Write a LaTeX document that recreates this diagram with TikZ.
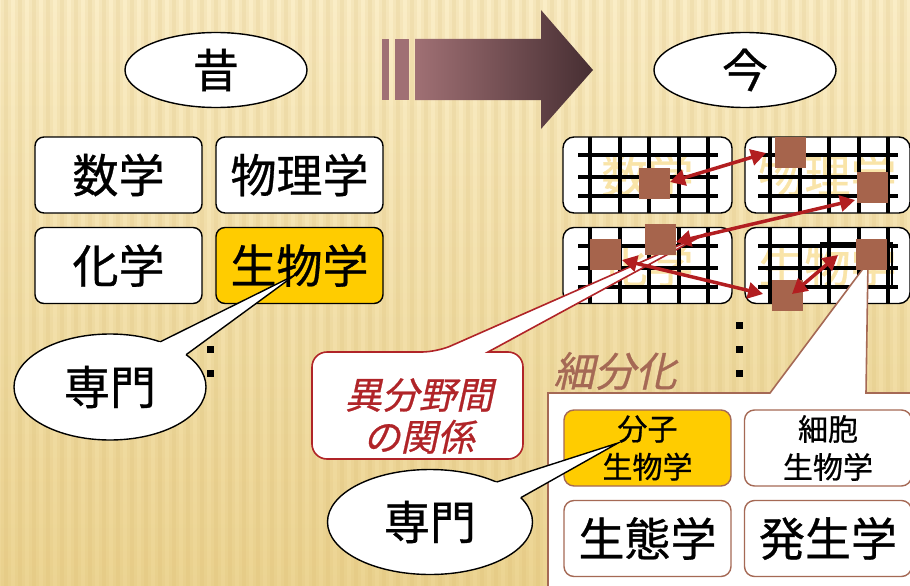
\documentclass[tikz,border=0pt]{standalone}
\usepackage{fontspec}
\newfontfamily\jp[FakeBold=0.7]{Noto Sans CJK JP}
\newfontfamily\jpit[FakeSlant=0.22,FakeBold=0.7]{Noto Sans CJK JP}
\usetikzlibrary{arrows.meta,calc,shapes.geometric}
\definecolor{bgtop}{RGB}{250,237,198}
\definecolor{bgbot}{RGB}{236,212,146}
\definecolor{stripe}{RGB}{210,176,96}
\definecolor{gold}{RGB}{255,204,0}
\definecolor{sqbrown}{RGB}{166,100,76}
\definecolor{arrred}{RGB}{178,30,32}
\definecolor{calred}{RGB}{176,36,40}
\definecolor{calbrown}{RGB}{165,105,85}
\definecolor{ghost}{RGB}{249,228,168}
\definecolor{arrL}{RGB}{160,112,116}
\definecolor{arrR}{RGB}{70,46,50}
\begin{document}
\begin{tikzpicture}[x=1pt,y=-1pt,
 field/.style={draw=black, line width=1.4pt, rounded corners=9pt, fill=white, minimum width=167pt, minimum height=76pt, inner sep=0pt, outer sep=0pt, font=\jp\fontsize{46}{50}\selectfont},
 hot/.style={field, fill=gold},
 gridbox/.style={draw=black, line width=1.4pt, rounded corners=11pt, fill=white, minimum width=169pt, minimum height=76pt, inner sep=0pt, outer sep=0pt, text=ghost, font=\jp\fontsize{46}{50}\selectfont},
 gline/.style={line width=4pt, black},
 bubble/.style={ellipse, draw=black, line width=1.4pt, fill=white, inner sep=0pt, outer sep=0pt, font=\jp\fontsize{46}{50}\selectfont},
 sub/.style={draw=calbrown, line width=1.4pt, rounded corners=10pt, fill=white, minimum width=167pt, minimum height=76pt, inner sep=0pt, outer sep=0pt, align=center},
 sq/.style={fill=sqbrown, minimum size=31pt, inner sep=0pt, outer sep=0pt},
 dbl/.style={arrred, line width=3.5pt, {Triangle[length=15pt,width=16pt]}-{Triangle[length=15pt,width=16pt]}},
 edot/.style={fill=black, minimum size=7pt, inner sep=0pt, outer sep=0pt},
]
\useasboundingbox (0,0) rectangle (910,586);
% background
\shade[top color=bgtop, bottom color=bgbot] (0,0) rectangle (910,586);
\foreach \i in {0,...,65} {
  \fill[stripe, opacity=0.10] (\i*14+1,0) rectangle (\i*14+11,586);
  \fill[stripe, opacity=0.12] (\i*14+4,0) rectangle (\i*14+8,586);
}
% big arrow
\shade[left color=arrL, right color=arrR] (415,39) -- (541,39) -- (541,10) -- (593,70) -- (541,129) -- (541,100) -- (415,100) -- cycle;
\fill[arrL] (382,39) rectangle (389,100);
\fill[arrL] (395,39) rectangle (409,100);
% era bubbles
\node[bubble, minimum width=182pt, minimum height=75pt] (past) at (216,70) {昔};
\node[bubble, minimum width=182pt, minimum height=75pt] (now) at (745,70) {今};
% old fields
\node[field] (math) at (118.5,175) {数学};
\node[field] (phys) at (299.5,175) {物理学};
\node[field] (chem) at (118.5,265.5) {化学};
\node[hot] (bio) at (299.5,265.5) {生物学};
% new gridded fields
\node[gridbox] (g1) at (647.5,175) {数学};
\node[gridbox, minimum width=165pt] (g2) at (827.5,175) {物理学};
\node[gridbox] (g3) at (647.5,265.5) {化学};
\node[gridbox, minimum width=165pt] (g4) at (827.5,265.5) {生物学};
\foreach \dx/\dy in {0/0,180/0,0/90.5,180/90.5} {
  \foreach \x in {590,619.5,649,678.5,708} \draw[gline] (\x+\dx,137+\dy) -- (\x+\dx,213+\dy);
  \foreach \y in {155,177,196} \draw[gline] (578+\dx,\y+\dy) -- (718+\dx,\y+\dy);
}
\draw[line width=2pt] (821,243) rectangle (892,287);
% vertical ellipses
\foreach \y [count=\k] in {325,349,373} {
  \node[edot] (ld\k) at (210,\y) {};
  \node[edot] (rd\k) at (739,\y) {};
}
% subdivision label
\node[text=calbrown, font=\jpit\fontsize{41}{44}\selectfont, inner sep=0pt] (saibun) at (615,371) {細分化};
% brown callout
\coordinate (tip3) at (868,262);
\draw[calbrown, line width=1.6pt, fill=white] (548,393) -- (770,393) -- (tip3) -- (866,393) -- (920,393) -- (920,600) -- (548,600) -- cycle;
\node[sub, fill=gold, font=\jp\fontsize{30}{38}\selectfont] (mol) at (647.5,448) {分子\\生物学};
\node[sub, font=\jp\fontsize{30}{38}\selectfont] (cell) at (828,448) {細胞\\生物学};
\node[sub, font=\jp\fontsize{46}{50}\selectfont] (eco) at (647.5,538.5) {生態学};
\node[sub, font=\jp\fontsize{46}{50}\selectfont] (dev) at (828,538.5) {発生学};
% red callout
\coordinate (tipR) at (707,233);
\draw[calred, line width=1.6pt, fill=white] (312,400) [rounded corners=15pt] -- (312,352) -- (437,352) [sharp corners] -- (tipR) -- (488,352) [rounded corners=15pt] -- (523,352) -- (523,459) -- (312,459) -- cycle;
\node[text=calred, font=\jpit\fontsize{37}{42}\selectfont, align=center, inner sep=0pt] (rel) at (419,416) {異分野間\\の関係};
% left speciality bubble
\node[bubble, minimum width=192pt, minimum height=106pt] (sen1) at (110,387) {専門};
\coordinate (tip1) at (295,275);
\fill[white] (tip1) -- ($(tip1)!1.1!(sen1.42)$) -- ($(tip1)!1.1!(sen1.23)$) -- cycle;
\draw[line width=1.4pt] (sen1.42) -- (tip1) -- (sen1.23);
% bottom speciality bubble
\node[bubble, minimum width=205pt, minimum height=105pt] (sen2) at (430,522) {専門};
\coordinate (tip2) at (618,443);
\fill[white] (tip2) -- ($(tip2)!1.1!(sen2.31)$) -- ($(tip2)!1.1!(sen2.15)$) -- cycle;
\draw[line width=1.4pt] (sen2.31) -- (tip2) -- (sen2.15);
% squares
\node[sq] (s1) at (654.5,183) {};
\node[sq] (s2) at (790.5,152) {};
\node[sq] (s3) at (872.5,187.5) {};
\node[sq] (s4) at (605.5,254) {};
\node[sq] (s5) at (660.5,239) {};
\node[sq] (s6) at (871,254.5) {};
\node[sq] (s7) at (787.5,295.5) {};
% links
\coordinate (a1s) at (670,182); \coordinate (a1e) at (766,153);
\coordinate (a2s) at (855,200); \coordinate (a2e) at (676,242);
\coordinate (a3s) at (622,260); \coordinate (a3e) at (763,294);
\coordinate (a4s) at (792,294); \coordinate (a4e) at (838,255);
\draw[dbl] (a1s) -- (a1e);
\draw[dbl] (a2s) -- (a2e);
\draw[dbl] (a3s) -- (a3e);
\draw[dbl] (a4s) -- (a4e);
\end{tikzpicture}
\end{document}
